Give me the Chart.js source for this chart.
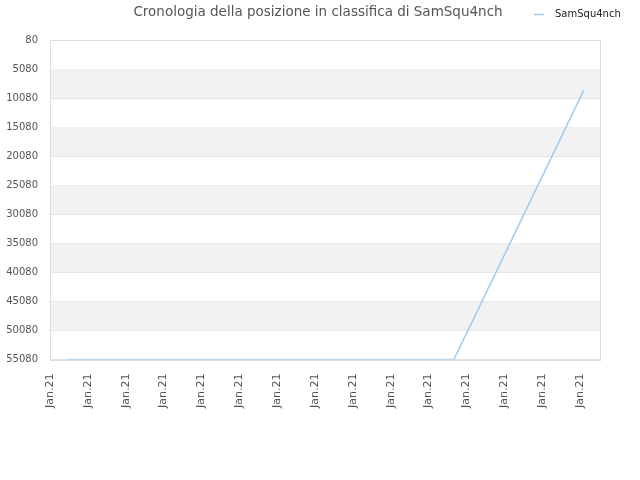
<!DOCTYPE html>
<html>
<head>
<meta charset="utf-8">
<script src="https://cdn.jsdelivr.net/npm/chart.js@4/dist/chart.umd.min.js"></script>
<style>
html,body{margin:0;padding:0;background:#fff;}
#wrap{width:640px;height:480px;position:relative;}
</style>
</head>
<body>
<div id="wrap"><canvas id="c"></canvas></div>
<script>
const chartTitle = "Cronologia della posizione in classifica di SamSqu4nch";
const seriesName = "SamSqu4nch";
const xValues = [0.48, 10.67, 14.1];
const ranks = [55080, 55080, 8740];
const tickLabel = "Jan.21";
const yMin = 80, yMax = 55080, yStep = 5000;
const xMin = 0, xMax = 14.53;

const lineColor = '#9ccbf3';

const decoPlugin = {
  id: 'deco',
  beforeDatasetsDraw(chart) {
    const {ctx, chartArea, scales} = chart;
    const y = scales.y;
    ctx.save();
    ctx.fillStyle = '#f2f2f2';
    const ticks = y.ticks;
    for (let i = 0; i < ticks.length - 1; i++) {
      if (i % 2 === 1) {
        const a = y.getPixelForValue(ticks[i].value);
        const b = y.getPixelForValue(ticks[i + 1].value);
        ctx.fillRect(chartArea.left, Math.min(a, b), chartArea.right - chartArea.left, Math.abs(b - a));
      }
    }
    ctx.restore();
  },
  afterDraw(chart) {
    const {ctx, chartArea} = chart;
    ctx.save();
    ctx.strokeStyle = '#dddddd';
    ctx.lineWidth = 1;
    ctx.strokeRect(Math.round(chartArea.left) + 0.5, Math.round(chartArea.top) + 0.5,
      Math.round(chartArea.right - chartArea.left), Math.round(chartArea.bottom - chartArea.top));
    // title
    ctx.fillStyle = '#555';
    ctx.font = '13.5px "DejaVu Sans"';
    ctx.textAlign = 'center';
    ctx.textBaseline = 'middle';
    ctx.fillText(chartTitle, 318, 12);
    // legend
    const ds = chart.data.datasets[0];
    ctx.strokeStyle = ds.borderColor;
    ctx.lineWidth = 1.5;
    ctx.beginPath();
    ctx.moveTo(534, 14.5);
    ctx.lineTo(544, 14.5);
    ctx.stroke();
    ctx.fillStyle = '#222';
    ctx.font = '10px "DejaVu Sans"';
    ctx.textAlign = 'left';
    ctx.fillText(ds.label, 555, 14);
    ctx.restore();
  }
};

new Chart(document.getElementById('c'), {
  type: 'line',
  data: {
    datasets: [{
      label: seriesName,
      data: xValues.map((x, i) => ({x: x, y: ranks[i]})),
      borderColor: lineColor,
      backgroundColor: lineColor,
      borderWidth: 1.5,
      pointRadius: 0,
      tension: 0,
      fill: false
    }]
  },
  options: {
    responsive: true,
    maintainAspectRatio: false,
    animation: false,
    layout: {padding: {left: 0, right: 40, top: 40, bottom: 58}},
    plugins: {
      title: {display: false},
      tooltip: {enabled: false},
      legend: {display: false}
    },
    scales: {
      x: {
        type: 'linear',
        min: xMin,
        max: xMax,
        grid: {display: false, drawTicks: false},
        border: {display: false},
        ticks: {
          stepSize: 1,
          includeBounds: false,
          autoSkip: false,
          maxRotation: 90,
          minRotation: 90,
          color: '#555',
          font: {family: 'DejaVu Sans', size: 11},
          padding: 14,
          callback: () => tickLabel
        }
      },
      y: {
        reverse: true,
        min: yMin,
        max: yMax,
        afterFit(s) { s.width = 50; },
        grid: {color: '#e0e0e0', drawTicks: false},
        border: {display: false},
        ticks: {
          stepSize: yStep,
          color: '#555',
          font: {family: 'DejaVu Sans', size: 10},
          padding: 12,
          callback: (v) => String(v)
        }
      }
    }
  },
  plugins: [decoPlugin]
});
</script>
</body>
</html>
